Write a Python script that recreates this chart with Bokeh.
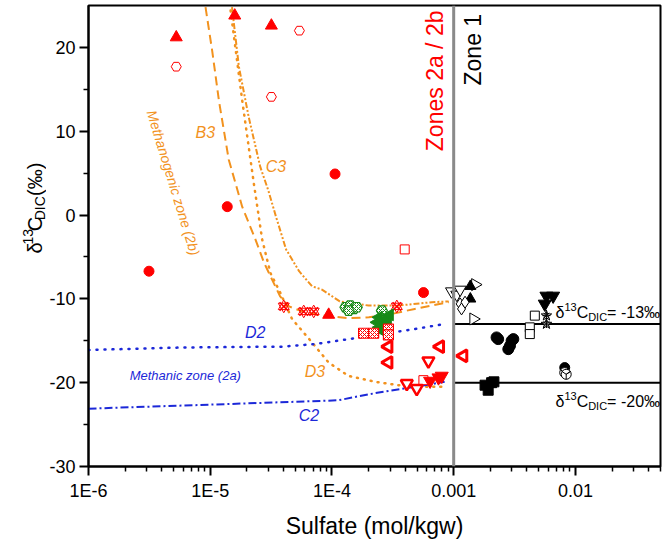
import math
from bokeh.plotting import figure
from bokeh.layouts import row
from bokeh.models import Label, Span, FixedTicker, Range1d
from bokeh.embed import file_html
from bokeh.resources import INLINE

FONT = "Liberation Sans"
ORANGE = "#F2921E"
BLUE = "#1C28D8"
RED = "#FF0000"
GREEN = "#178A17"

# ---------------- axes ----------------
X_RANGE = (1e-6, 0.05)
Y_RANGE = (-30, 25)
X_TICKS = [1e-6, 1e-5, 1e-4, 1e-3, 1e-2]
X_TICK_LABELS = ["1E-6", "1E-5", "1E-4", "0.001", "0.01"]
X_MINOR = [m * 10.0 ** e for e in range(-6, -1) for m in range(2, 10)]
Y_TICKS = [-30, -20, -10, 0, 10, 20]
Y_TICK_LABELS = ["-30", "-20", "-10", "0", "10", "20"]
Y_MINOR = [-25, -15, -5, 5, 15]

# ---------------- model curves ----------------
B3_X = [9.15e-6, 1.04e-5, 1.18e-5, 1.42e-5, 1.83e-5, 2.35e-5, 2.77e-5, 3.22e-5, 3.75e-5,
        4.44e-5, 5.68e-5, 8.28e-5, 1.38e-4, 2.01e-4, 3.1e-4, 4.79e-4, 9.1e-4]
B3_Y = [24.8, 19.5, 13.6, 6.6, 1.0, -2.9, -5.7, -7.7, -9.7,
        -10.9, -11.5, -12.0, -12.3, -12.2, -11.8, -11.2, -10.4]
C3_X = [1.51e-5, 1.72e-5, 2.07e-5, 2.57e-5, 2.99e-5, 3.47e-5, 4.2e-5, 5.37e-5, 6.86e-5,
        8.28e-5, 1.16e-4, 2.0e-4, 3.52e-4, 6.6e-4, 9.1e-4]
C3_Y = [24.8, 17.7, 11.7, 5.8, 3.0, -0.2, -4.1, -6.7, -8.5,
        -8.9, -10.3, -10.8, -10.8, -10.4, -10.3]
D3_X = [1.47e-5, 1.83e-5, 2.28e-5, 2.67e-5, 3.12e-5, 3.77e-5, 4.7e-5, 5.68e-5, 6.86e-5,
        9.4e-5, 1.37e-4, 2.27e-4, 3.52e-4, 5.47e-4, 8.5e-4]
D3_Y = [24.4, 13.7, 3.8, -2.9, -6.9, -9.3, -12.4, -13.8, -15.2,
        -17.6, -19.2, -19.9, -20.3, -20.5, -20.5]
D2_X = [1e-6, 5.89e-6, 3.89e-5, 7.26e-5, 1.38e-4, 2.57e-4, 4.79e-4, 8.43e-4]
D2_Y = [-16.1, -15.8, -15.7, -15.4, -14.8, -14.2, -13.6, -13.0]
C2_X = [1e-6, 1.1e-5, 1.13e-4, 1.55e-4, 2.57e-4, 4.79e-4, 8.43e-4]
C2_Y = [-23.1, -22.6, -22.1, -21.7, -21.1, -20.5, -19.9]

ZONE_BOUNDARY = 1e-3
REF_LEVELS = [-13, -20]

# ---------------- zone 2 samples (red / green) ----------------
RED_TRI_X = [5.26e-6, 1.59e-5, 3.18e-5, 9.4e-5]
RED_TRI_Y = [21.2, 23.8, 22.6, -11.9]
RED_HEX_X = [5.26e-6, 5.4e-5, 3.18e-5]
RED_HEX_Y = [17.7, 22.0, 14.1]
RED_CIRC_X = [3.14e-6, 1.38e-5, 1.06e-4, 5.65e-4]
RED_CIRC_Y = [-6.7, 1.0, 4.9, -9.25]
RED_SQ_X = [3.96e-4, 5.64e-4]
RED_SQ_Y = [-4.1, -19.7]
RED_STAR_X = [4.02e-5, 5.86e-5, 7.08e-5, 3.41e-4]
RED_STAR_Y = [-10.9, -11.5, -11.5, -10.9]
RED_HSQ_X = [1.82e-4, 2.2e-4, 2.91e-4, 2.91e-4]
RED_HSQ_Y = [-14.1, -14.1, -13.6, -14.3]
RED_LTRI_X = [2.91e-4, 2.91e-4, 7.73e-4, 1.2e-3]
RED_LTRI_Y = [-15.7, -17.6, -15.7, -16.8]
RED_DTRI_OPEN_X = [6.2e-4, 4.12e-4, 4.97e-4]
RED_DTRI_OPEN_Y = [-17.4, -20.1, -20.7]
RED_DTRI_X = [6.4e-4, 7.5e-4, 7.98e-4]
RED_DTRI_Y = [-19.8, -19.4, -19.2]
GREEN_HEX_X = [1.29e-4, 1.41e-4, 1.51e-4, 1.6e-4, 1.37e-4, 2.57e-4]
GREEN_HEX_Y = [-11.0, -10.8, -11.2, -11.0, -11.4, -11.4]
GREEN_TRI_X = [2.43e-4, 2.57e-4, 2.72e-4, 2.88e-4, 2.43e-4, 2.72e-4, 2.99e-4, 2.34e-4, 2.57e-4]
GREEN_TRI_Y = [-12.2, -12.7, -13.1, -12.4, -13.4, -14.0, -11.9, -12.8, -13.6]

# ---------------- zone 1 samples (black) ----------------
BK_DTRI_OPEN_X = [9.6e-4, 1.06e-3, 1.13e-3]
BK_DTRI_OPEN_Y = [-9.1, -9.5, -8.9]
BK_RTRI_OPEN_X = [1.5e-3, 1.45e-3]
BK_RTRI_OPEN_Y = [-8.3, -12.4]
BK_TRI_X = [1.37e-3, 1.37e-3]
BK_TRI_Y = [-8.5, -10.0]
BK_DIA_X = [1.13e-3, 1.16e-3, 1.24e-3]
BK_DIA_Y = [-10.6, -11.2, -10.4]
BK_DTRI_X = [5.78e-3, 6.56e-3, 5.6e-3]
BK_DTRI_Y = [-9.65, -9.65, -10.6]
BK_STAR_X = [5.78e-3, 5.78e-3]
BK_STAR_Y = [-12.0, -13.0]
BK_SQ_OPEN_X = [4.64e-3, 4.22e-3, 4.22e-3]
BK_SQ_OPEN_Y = [-12.0, -13.4, -14.2]
BK_CIRC_X = [2.25e-3, 2.32e-3, 2.81e-3, 2.99e-3, 2.9e-3, 3.09e-3]
BK_CIRC_Y = [-14.6, -14.8, -16.0, -15.0, -15.6, -14.8]
BK_SQ_X = [1.81e-3, 2.14e-3, 1.92e-3, 2.05e-3]
BK_SQ_Y = [-20.3, -19.9, -20.9, -20.0]
BK_HCIRC_X = [8.17e-3, 8.17e-3, 8.4e-3]
BK_HCIRC_Y = [-18.2, -18.8, -19.0]

# ---------------- layout sizes ----------------
TOTAL_W, TOTAL_H = 662, 541
TITLE_W = 46

# ---------------- main figure ----------------
p = figure(width=TOTAL_W - TITLE_W, height=TOTAL_H, x_axis_type="log",
           x_range=Range1d(*X_RANGE), y_range=Range1d(*Y_RANGE),
           output_backend="svg", toolbar_location=None,
           min_border_left=40, min_border_right=2, min_border_top=5, min_border_bottom=73)
p.grid.visible = False
p.outline_line_color = "black"
p.outline_line_width = 2
p.background_fill_color = "white"
p.border_fill_color = "white"

p.xaxis.ticker = FixedTicker(ticks=X_TICKS, minor_ticks=X_MINOR)
p.xaxis.major_label_overrides = {t: l for t, l in zip(X_TICKS, X_TICK_LABELS)}
p.yaxis.ticker = FixedTicker(ticks=Y_TICKS, minor_ticks=Y_MINOR)
p.yaxis.major_label_overrides = {t: l for t, l in zip(Y_TICKS, Y_TICK_LABELS)}
for ax in (p.xaxis[0], p.yaxis[0]):
    ax.axis_line_width = 2
    ax.axis_line_color = "black"
    ax.major_tick_in = 0
    ax.major_tick_out = 9
    ax.minor_tick_in = 0
    ax.minor_tick_out = 5
    ax.major_tick_line_width = 2
    ax.minor_tick_line_width = 1.5
    ax.major_tick_line_color = "black"
    ax.minor_tick_line_color = "black"
    ax.major_label_text_font = FONT
    ax.major_label_text_font_size = "18px"
    ax.major_label_text_color = "black"
p.xaxis.major_label_standoff = 5
p.yaxis.major_label_standoff = 4
p.xaxis.axis_label = "Sulfate (mol/kgw)"
p.xaxis.axis_label_text_font = FONT
p.xaxis.axis_label_text_font_size = "23px"
p.xaxis.axis_label_text_font_style = "normal"
p.xaxis.axis_label_text_color = "black"
p.xaxis.axis_label_standoff = 9

# zone boundary and reference levels
p.add_layout(Span(location=ZONE_BOUNDARY, dimension="height", line_color="#8a8a8a", line_width=3))
p.segment(x0=[ZONE_BOUNDARY] * len(REF_LEVELS), x1=[X_RANGE[1]] * len(REF_LEVELS),
          y0=REF_LEVELS, y1=REF_LEVELS, line_color="black", line_width=2)

# curves
p.line(B3_X, B3_Y, line_color=ORANGE, line_width=2, line_dash="9 5")
p.line(C3_X, C3_Y, line_color=ORANGE, line_width=2, line_dash="6 2 2 2 2 2")
p.line(D3_X, D3_Y, line_color=ORANGE, line_width=2.5, line_dash="1 6", line_cap="round")
p.line(D2_X, D2_Y, line_color=BLUE, line_width=2.5, line_dash="1 7", line_cap="round")
p.line(C2_X, C2_Y, line_color=BLUE, line_width=2, line_dash="8 3 2 3")

# zone 2 markers
p.scatter(RED_TRI_X, RED_TRI_Y, marker="triangle", size=12, color=RED)
p.scatter(RED_HEX_X, RED_HEX_Y, marker="hex", size=10, fill_color="white", line_color=RED, line_width=1)
p.scatter(RED_CIRC_X, RED_CIRC_Y, marker="circle", size=10, color=RED)
p.scatter(RED_SQ_X, RED_SQ_Y, marker="square", size=9, fill_color="white", line_color=RED, line_width=1)
p.scatter(RED_STAR_X, RED_STAR_Y, marker="x", size=12, line_color=RED, line_width=1.5)
p.scatter(RED_STAR_X, RED_STAR_Y, marker="triangle", size=11, fill_alpha=0, line_color=RED, line_width=1)
p.scatter(RED_STAR_X, RED_STAR_Y, marker="inverted_triangle", size=11, fill_alpha=0, line_color=RED, line_width=1)
p.scatter(GREEN_HEX_X, GREEN_HEX_Y, marker="hex", size=11, fill_color="white", line_color=GREEN, line_width=1.2,
          hatch_pattern="diagonal_cross", hatch_color=GREEN, hatch_scale=4, hatch_weight=1)
p.scatter(GREEN_TRI_X, GREEN_TRI_Y, marker="triangle", angle=math.pi / 2, size=12, color=GREEN)
p.scatter(RED_HSQ_X, RED_HSQ_Y, marker="square", size=10, fill_color="white", line_color=RED, line_width=1.2,
          hatch_pattern="diagonal_cross", hatch_color=RED, hatch_scale=4, hatch_weight=1)
p.scatter(RED_LTRI_X, RED_LTRI_Y, marker="triangle", angle=math.pi / 2, size=12, fill_color="white",
          line_color=RED, line_width=3)
p.scatter(RED_DTRI_OPEN_X, RED_DTRI_OPEN_Y, marker="inverted_triangle", size=12, fill_color="white",
          line_color=RED, line_width=2.5)
p.scatter(RED_DTRI_X, RED_DTRI_Y, marker="inverted_triangle", size=13, color=RED)

# zone 1 markers
p.scatter(BK_DTRI_OPEN_X, BK_DTRI_OPEN_Y, marker="inverted_triangle", size=12, fill_color="white", line_color="black")
p.scatter(BK_RTRI_OPEN_X, BK_RTRI_OPEN_Y, marker="triangle", angle=-math.pi / 2, size=12, fill_color="white", line_color="black")
p.scatter(BK_TRI_X, BK_TRI_Y, marker="triangle", size=11, color="black")
p.scatter(BK_DIA_X, BK_DIA_Y, marker="diamond", size=12, fill_color="white", line_color="black")
p.scatter(BK_DTRI_X, BK_DTRI_Y, marker="inverted_triangle", size=13, color="black")
p.scatter(BK_STAR_X, BK_STAR_Y, marker="star", size=11, fill_color="white", line_color="black")
p.scatter(BK_STAR_X, BK_STAR_Y, marker="asterisk", size=8, line_color="black")
p.scatter(BK_SQ_OPEN_X, BK_SQ_OPEN_Y, marker="square", size=9, fill_color="white", line_color="black")
p.scatter(BK_CIRC_X, BK_CIRC_Y, marker="circle", size=11, color="black")
p.scatter(BK_SQ_X, BK_SQ_Y, marker="square", size=10, color="black")
p.scatter(BK_HCIRC_X[:1], BK_HCIRC_Y[:1], marker="circle", size=10, color="black")
p.scatter(BK_HCIRC_X[1:], BK_HCIRC_Y[1:], marker="circle_y", size=10, fill_color="white", line_color="black")

# ---------------- texts ----------------
def lab(x, y, text, size, color, italic=False, angle=0.0, align="center", baseline="middle"):
    p.add_layout(Label(x=x, y=y, text=text, text_font=FONT, text_font_size=f"{size}px",
                       text_font_style="italic" if italic else "normal", text_color=color,
                       angle=angle, text_align=align, text_baseline=baseline))

lab(9.1e-6, 9.8, "B3", 16, ORANGE, italic=True)
lab(3.47e-5, 5.75, "C3", 16, ORANGE, italic=True)
lab(7.26e-5, -18.7, "D3", 16, ORANGE, italic=True)
lab(2.34e-5, -14.0, "D2", 16, BLUE, italic=True)
lab(6.47e-5, -23.9, "C2", 16, BLUE, italic=True)
lab(6.24e-6, -19.2, "Methanic zone (2a)", 13, BLUE, italic=True)
lab(4.98e-6, 3.85, "Methanogenic zone (2b)", 14, ORANGE, italic=True, angle=math.radians(-73))
lab(7.0e-4, 24.4, "Zones 2a / 2b", 23, RED, angle=math.pi / 2, align="right")
lab(1.45e-3, 24.0, "Zone 1", 23, "black", angle=math.pi / 2, align="right")

W = {'δ': 0.556, 'C': 0.722, 'D': 0.722, 'I': 0.278, '=': 0.584, ' ': 0.278, '-': 0.333,
     '‰': 1.0, '(': 0.333, ')': 0.333}


def tw(s, size):
    return sum(W.get(c, 0.556) for c in s) * size


for lvl, (sx, sy) in zip(REF_LEVELS, [(467, 154), (467, 65)]):
    pos = 0.0
    for text, size, shift in [("δ", 16, 0), ("13", 11, 6), ("C", 16, 0), ("DIC", 11, -4), (f"= {lvl}‰", 16, 0)]:
        p.add_layout(Label(x=sx + pos, y=sy + shift, x_units="screen", y_units="screen", text=text,
                           text_font=FONT, text_font_size=f"{size}px", text_color="black",
                           text_align="left", text_baseline="alphabetic"))
        pos += tw(text, size)

# ---------------- y-axis title strip (rotated rich text) ----------------
lp = figure(width=TITLE_W, height=TOTAL_H, x_range=Range1d(0, TITLE_W), y_range=Range1d(TOTAL_H, 0),
            output_backend="svg", toolbar_location=None, x_axis_location=None, y_axis_location=None,
            min_border_left=0, min_border_right=0, min_border_top=0, min_border_bottom=0)
lp.grid.visible = False
lp.outline_line_color = None
lp.background_fill_color = "white"
lp.border_fill_color = "white"

x0, y0 = 34, 289
pos = 0.0
for text, size, shift, gap in [("δ", 20, 0, 0), ("13", 14, 7, 0), ("C", 20, 0, 0), ("DIC", 14, -5, 0),
                               ("(‰)", 20, 0, 6)]:
    pos += gap
    w = tw(text, size)
    # anchored at the end of each piece (text reads bottom-to-top)
    lp.add_layout(Label(x=x0 - shift, y=y0 - pos - w, text=text, angle=math.pi / 2,
                        text_font=FONT, text_font_size=f"{size}px", text_color="black",
                        text_align="right", text_baseline="alphabetic"))
    pos += w

page = row(lp, p)
open("out.html", "w").write(file_html(page, INLINE))
